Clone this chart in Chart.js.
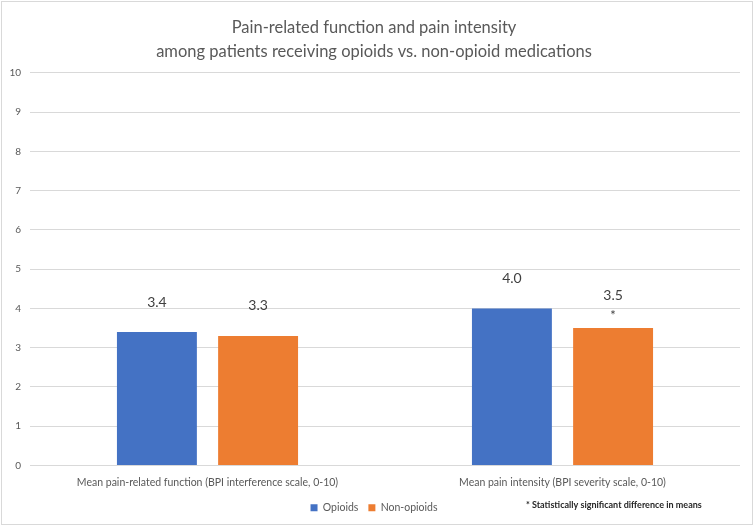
<!DOCTYPE html>
<html>
<head>
<meta charset="utf-8">
<script src="https://cdn.jsdelivr.net/npm/chart.js@4"></script>
<style>
  body { margin: 0; background: #fff; }
  #wrap { width: 756px; height: 528px; position: relative; }
</style>
</head>
<body>
<div id="wrap"><canvas id="painChart" width="756" height="528"></canvas></div>
<script>
// --- data ---
const categories = [
    'Mean pain-related function (BPI interference scale, 0-10)',
    'Mean pain intensity (BPI severity scale, 0-10)'
];
const opioids = [3.4, 4.0];
const nonOpioids = [3.3, 3.5];
const nonOpioidMarks = ['', '*'];   // significance flag over the bar
const yMin = 0, yMax = 10, yStep = 1;
const titleLines = [
    'Pain-related function and pain intensity',
    'among patients receiving opioids vs. non-opioid medications'
];
const footnote = '* Statistically significant difference in means';

const GREY = '#595959';

// value labels + asterisk above bars, Excel puts them quite high
const barLabels = {
    id: 'barLabels',
    afterDatasetsDraw(chart) {
        const ctx = chart.ctx;
        ctx.save();
        ctx.textAlign = 'center';
        ctx.textBaseline = 'middle';
        chart.data.datasets.forEach((ds, i) => {
            chart.getDatasetMeta(i).data.forEach((bar, j) => {
                const mark = ds.marks ? ds.marks[j] : '';
                ctx.fillStyle = '#404040';
                ctx.font = '14px Lato';
                ctx.fillText(ds.data[j].toFixed(1), bar.x, bar.y - (mark ? 33 : 30));
                if (mark) {
                    ctx.font = '13px Lato';
                    ctx.fillText(mark, bar.x, bar.y - 12);
                }
            });
        });
        ctx.restore();
    }
};

// frame + footnote
const frame = {
    id: 'frame',
    afterDraw(chart) {
        const ctx = chart.ctx;
        ctx.save();
        ctx.strokeStyle = '#d9d9d9';
        ctx.lineWidth = 1;
        ctx.strokeRect(1.5, 1.5, 751, 523);
        ctx.fillStyle = '#262626';
        ctx.font = 'bold 9px Lato';
        ctx.textBaseline = 'middle';
        ctx.fillText(footnote, 526, 505, 192);
        ctx.restore();
    }
};

new Chart(document.getElementById('painChart').getContext('2d'), {
    type: 'bar',
    data: {
        labels: categories,
        datasets: [{
            label: 'Opioids',
            data: opioids,
            backgroundColor: '#4472C4'
        }, {
            label: 'Non-opioids',
            data: nonOpioids,
            marks: nonOpioidMarks,
            backgroundColor: '#ED7D31'
        }]
    },
    options: {
        responsive: false,
        animation: false,
        events: [],
        categoryPercentage: 0.57,
        barPercentage: 0.79,
        layout: { padding: { top: 16, left: 8, right: 16, bottom: 5 } },
        plugins: {
            title: {
                display: true,
                text: titleLines,
                color: GREY,
                font: { family: 'Lato', size: 16.5, weight: 'normal', lineHeight: 1.45 },
                padding: { top: 0, bottom: 9 }
            },
            legend: {
                position: 'bottom',
                labels: {
                    color: GREY,
                    font: { family: 'Lato', size: 10.5 },
                    boxWidth: 7,
                    boxHeight: 7,
                    padding: 10
                }
            },
            tooltip: { enabled: false }
        },
        scales: {
            x: {
                grid: { display: false, drawTicks: false },
                border: { display: false },
                ticks: { color: GREY, font: { family: 'Lato', size: 10.5 }, padding: 11, maxRotation: 0 },
                afterFit: (scale) => { scale.height = 27; }
            },
            y: {
                min: yMin,
                max: yMax,
                grid: { color: '#d9d9d9', drawTicks: false },
                border: { display: false },
                ticks: { stepSize: yStep, color: GREY, font: { family: 'Lato', size: 10 }, padding: 9 },
                afterFit: (scale) => { scale.width = 22; }
            }
        }
    },
    plugins: [barLabels, frame]
});
</script>
</body>
</html>
